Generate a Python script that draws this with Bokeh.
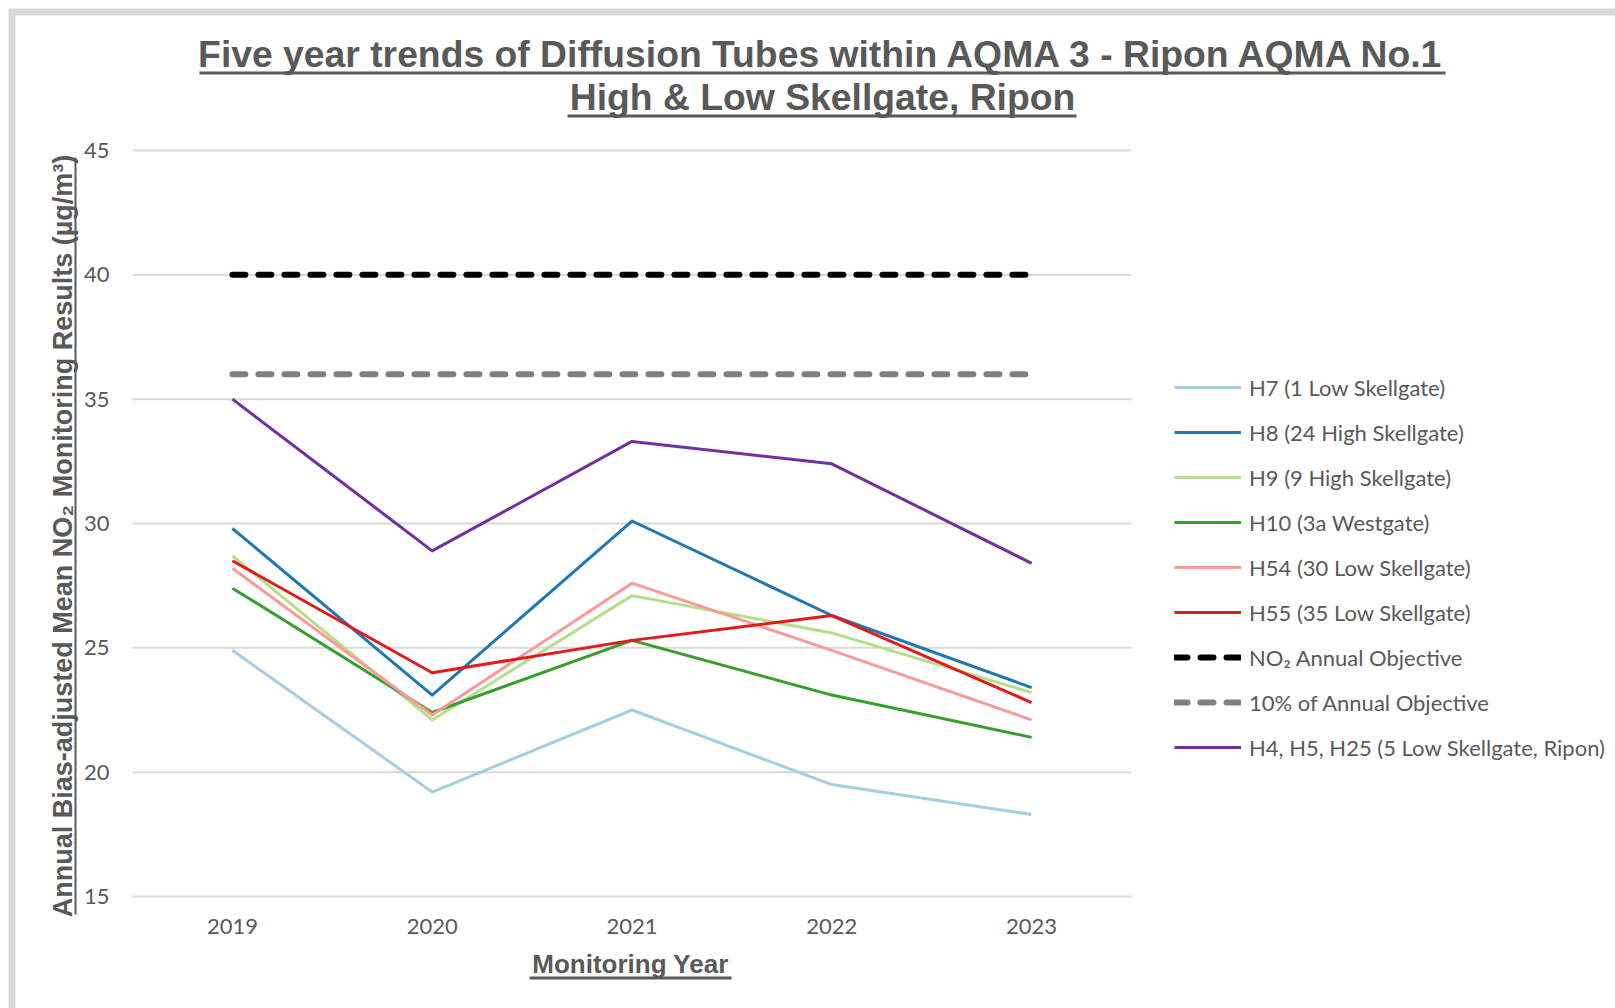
import math
from bokeh.plotting import figure
from bokeh.models import Legend, LegendItem, BoxAnnotation, Range1d
from bokeh.embed import file_html
from bokeh.resources import INLINE

# ---------------- data ----------------
years = ["2019", "2020", "2021", "2022", "2023"]
h7 = [24.9, 19.2, 22.5, 19.5, 18.3]
h8 = [29.8, 23.1, 30.1, 26.3, 23.4]
h9 = [28.7, 22.1, 27.1, 25.6, 23.2]
h10 = [27.4, 22.4, 25.3, 23.1, 21.4]
h54 = [28.2, 22.3, 27.6, 24.9, 22.1]
h55 = [28.5, 24.0, 25.3, 26.3, 22.8]
no2_objective = [40, 40, 40, 40, 40]
objective_10pct = [36, 36, 36, 36, 36]
h4_h5_h25 = [35.0, 28.9, 33.3, 32.4, 28.4]
y_ticks = [15, 20, 25, 30, 35, 40, 45]

series_labels = [
    "H7 (1 Low Skellgate)",
    "H8 (24 High Skellgate)",
    "H9 (9 High Skellgate)",
    "H10 (3a Westgate)",
    "H54 (30 Low Skellgate)",
    "H55 (35 Low Skellgate)",
    "NO\u2082 Annual Objective",
    "10% of Annual Objective",
    "H4, H5, H25 (5 Low Skellgate, Ripon)",
]
title_lines = ["Five year trends of Diffusion Tubes within AQMA 3 - Ripon AQMA No.1",
               "High & Low Skellgate, Ripon"]
y_title = "Annual Bias-adjusted Mean NO\u2082 Monitoring Results (\u00b5g/m\u00b3)"
x_title = "Monitoring Year"

# ---------------- layout ----------------
TXT = "#595959"
GRID = "#d9d9d9"
W, H = 1615, 1008
PL, PR, PT, PB = 132, 1131, 150, 896          # plot area in canvas pixels
Y0, Y1 = y_ticks[0], y_ticks[-1]
xs = [int(y) for y in years]
px_per_year = (PR - PL) / len(xs)
px_per_unit = (PB - PT) / (Y1 - Y0)
x_lo = xs[0] - 0.5 - PL / px_per_year
x_hi = x_lo + W / px_per_year
y_hi = Y1 + PT / px_per_unit
y_lo = Y0 - (H - PB) / px_per_unit


def cx(px):
    return x_lo + px / px_per_year


def cy(py):
    return y_hi - py / px_per_unit


p = figure(width=W, height=H, x_range=Range1d(x_lo, x_hi), y_range=Range1d(y_lo, y_hi),
           output_backend="svg", toolbar_location=None, title=None,
           x_axis_location=None, y_axis_location=None, min_border=0)
p.outline_line_color = None
p.background_fill_color = "white"
p.border_fill_color = "white"
p.grid.visible = False

# horizontal gridlines over the category span
gx0 = xs[0] - 0.5
gx1 = xs[-1] + 0.5
p.segment(x0=[gx0] * len(y_ticks), x1=[gx1] * len(y_ticks), y0=y_ticks, y1=y_ticks,
          line_color=GRID, line_width=2)

# tick labels
p.text(x=[gx0] * len(y_ticks), y=y_ticks, text=[str(t) for t in y_ticks],
       x_offset=-23, text_align="right", text_baseline="middle",
       text_font={"value": "Lato"}, text_font_size="22px", text_color=TXT)
p.text(x=xs, y=[Y0] * len(xs), text=years, y_offset=30, text_align="center",
       text_baseline="middle", text_font={"value": "Lato"}, text_font_size="22px",
       text_color=TXT)

styles = [
    (h7, "#a6cee3", None),
    (h8, "#1f78b4", None),
    (h9, "#b2df8a", None),
    (h10, "#33a02c", None),
    (h54, "#fb9a99", None),
    (h55, "#e31a1c", None),
    (no2_objective, "#000000", "dash"),
    (objective_10pct, "#7f7f7f", "dash"),
    (h4_h5_h25, "#7030a0", None),
]
items = []
for (vals, col, dash), lab in zip(styles, series_labels):
    if dash:
        r = p.line(xs, vals, line_color=col, line_width=6, line_dash="13 13",
                   line_cap="round")
    else:
        r = p.line(xs, vals, line_color=col, line_width=3, line_join="round")
    items.append(LegendItem(label=lab, renderers=[r]))

# legend: the frame is the whole canvas; location is measured from its bottom-left
legend = Legend(items=items, location=(1174, H - 761), padding=0, margin=0,
                border_line_color=None, background_fill_alpha=0,
                glyph_width=67, glyph_height=28, label_height=28, spacing=17,
                label_standoff=8, label_text_font="Lato",
                label_text_font_size="22px", label_text_color=TXT)
p.add_layout(legend, "center")


def canvas_box(l, r, t, b, color):
    p.add_layout(BoxAnnotation(left=l, right=r, top=t, bottom=b, left_units="canvas",
                               right_units="canvas", top_units="canvas",
                               bottom_units="canvas", fill_color=color, fill_alpha=1,
                               line_color=None))


# grey frame of the reference screenshot (top and left bands)
canvas_box(8, 15, 8, H, GRID)
canvas_box(8, W, 8, 15, GRID)

# title (two underlined lines)
p.text(x=[cx(822), cx(822)], y=[cy(53.2), cy(96.8)], text=title_lines,
       text_align="center", text_baseline="middle",
       text_font={"value": "Liberation Sans"}, text_font_style="bold",
       text_font_size="37.3px", text_color=TXT)
canvas_box(199, 1445, 71, 74, TXT)
canvas_box(567, 1076, 114, 117, TXT)

# x axis title
p.text(x=[cx(630)], y=[cy(963.5)], text=[x_title], text_align="center",
       text_baseline="middle", text_font={"value": "Liberation Sans"},
       text_font_style="bold", text_font_size="26px", text_color=TXT)
canvas_box(529, 731, 976, 979, TXT)

# y axis title (rotated)
p.text(x=[cx(62.2)], y=[cy(535.5)], text=[y_title], angle=math.pi / 2,
       text_align="center", text_baseline="middle",
       text_font={"value": "Liberation Sans"}, text_font_style="bold",
       text_font_size="27px", text_color=TXT)
canvas_box(74, 76, 157, 914, TXT)

open("out.html", "w").write(file_html(p, INLINE))
